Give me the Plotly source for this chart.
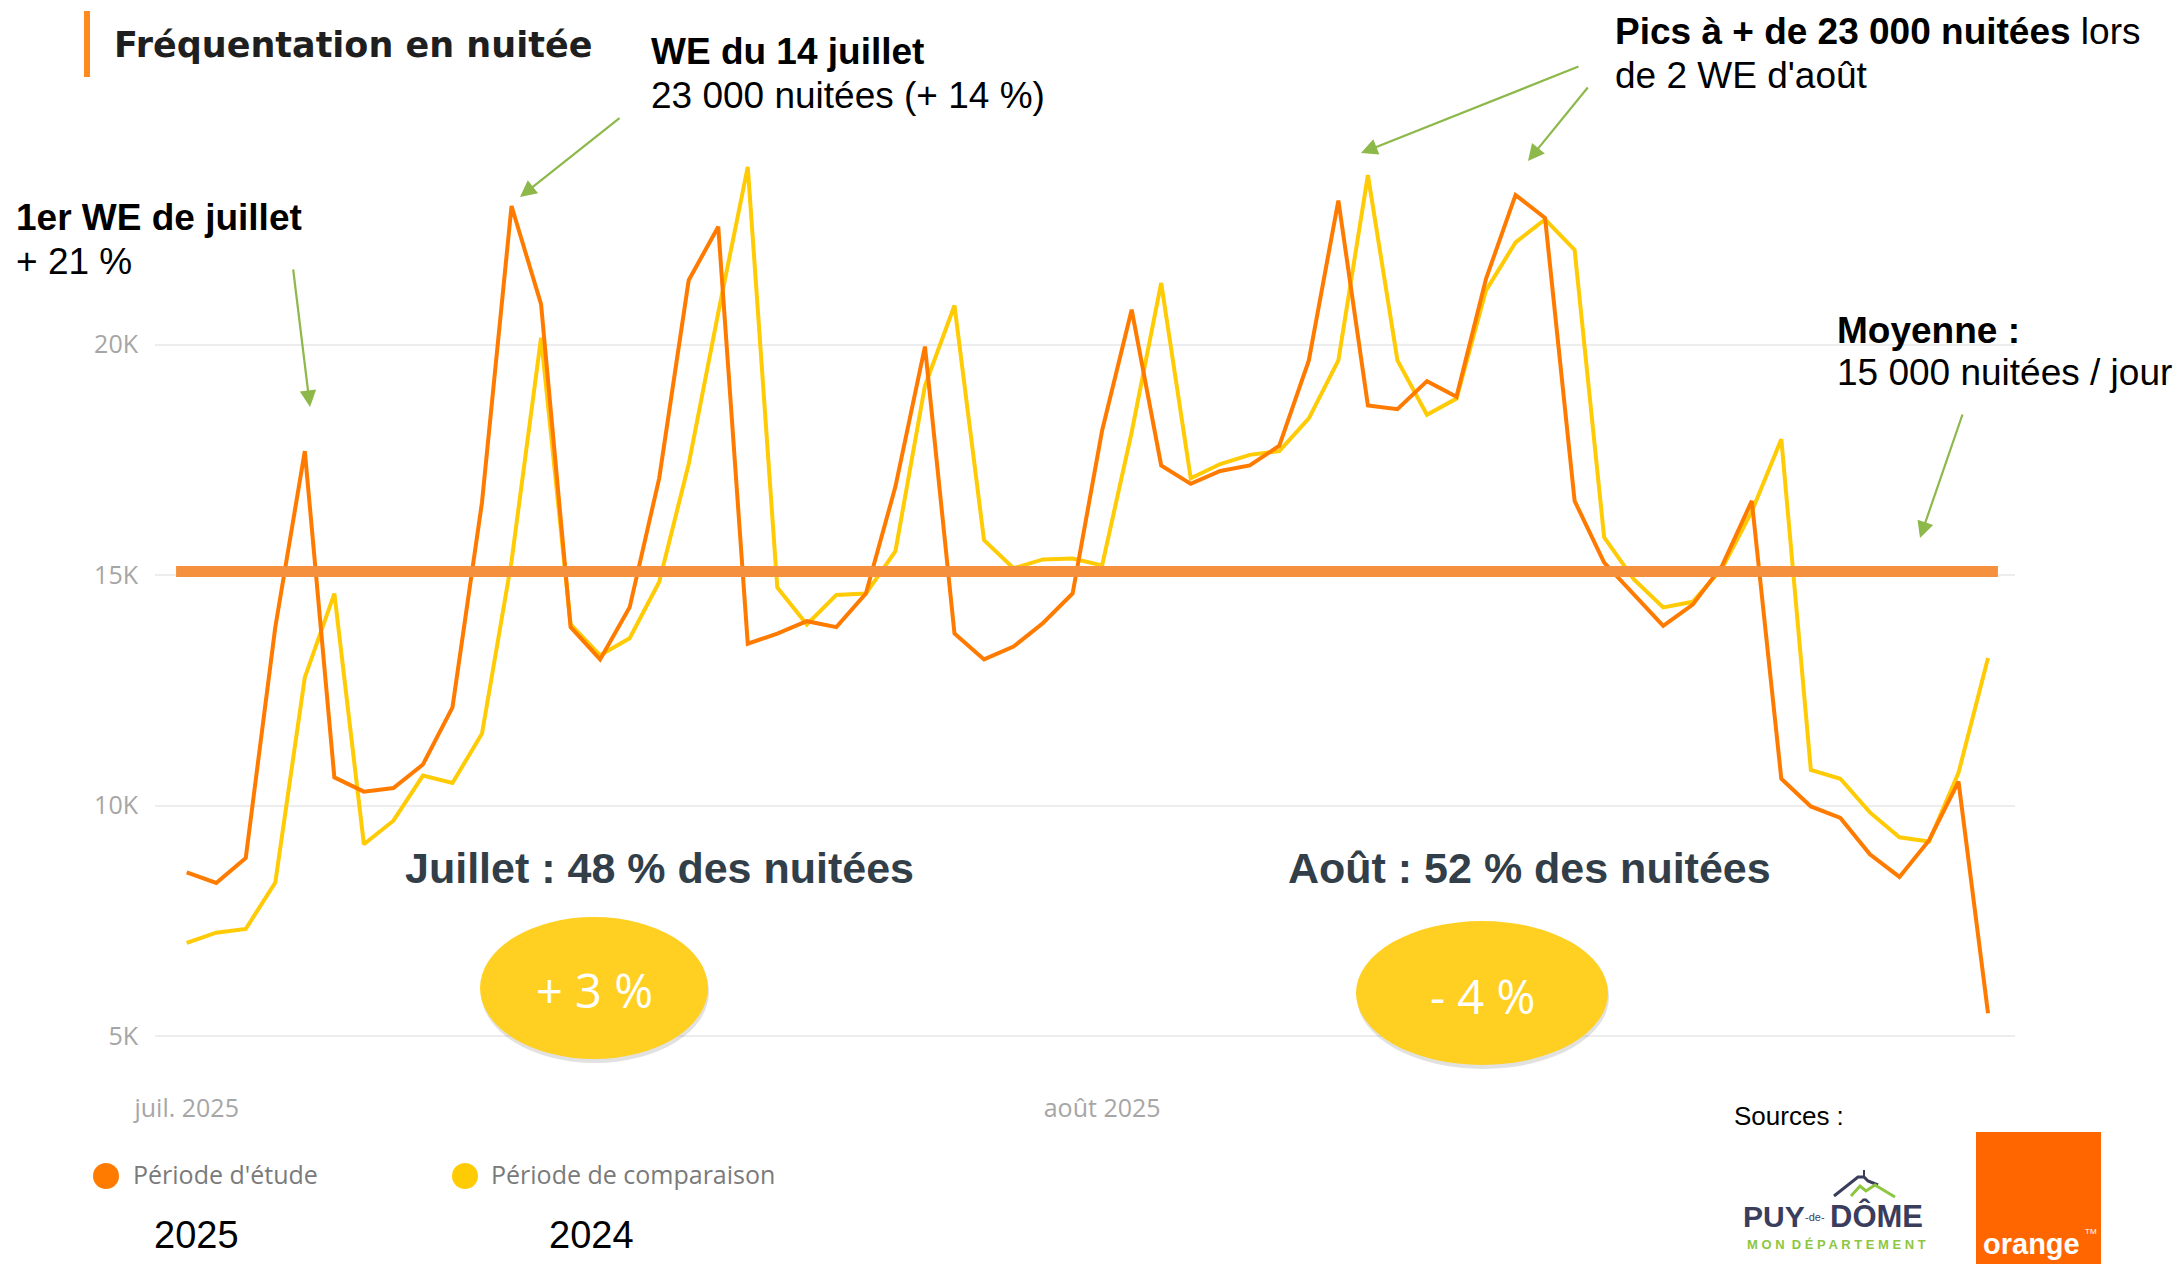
import plotly.graph_objects as go
import pandas as pd

# ---------------- data ----------------
dates = pd.date_range("2025-07-01", "2025-08-31", freq="D")
etude_2025 = [8550, 8320, 8860, 13870, 17690, 10610, 10300, 10380, 10890, 12130,
              16580, 23010, 20880, 13870, 13170, 14300, 17100, 21400, 22560, 13510,
              13730, 14000, 13870, 14600, 16920, 19960, 13730, 13170, 13450, 13960,
              14600, 18140, 20760, 17380, 16980, 17260, 17380, 17810, 19660, 23130,
              18680, 18600, 19210, 18870, 21430, 23250, 22750, 16610, 15270, 14600,
              13900, 14360, 15210, 16610, 10580, 9980, 9730, 8940, 8450, 9240,
              10520, 5490]
comparaison_2024 = [7020, 7240, 7320, 8330, 12780, 14600, 9160, 9670, 10650, 10490,
                    11560, 15300, 20150, 13930, 13260, 13630, 14850, 17410, 20690, 23860,
                    14730, 13930, 14570, 14600, 15520, 19110, 20850, 15760, 15150, 15340,
                    15360, 15210, 18100, 21340, 17100, 17410, 17610, 17690, 18400, 19660,
                    23680, 19660, 18480, 18830, 21180, 22220, 22720, 22060, 15820, 14910,
                    14300, 14420, 15150, 16380, 17950, 10770, 10580, 9850, 9310, 9220,
                    10710, 13200]
moyenne = 15080
series_names = ["Période d'étude", "Période de comparaison"]
series_years = ["2025", "2024"]
y_tickvals = [5000, 10000, 15000, 20000]
y_ticktext = ["5K", "10K", "15K", "20K"]
x_tickvals = ["2025-07-01", "2025-08-01"]
x_ticktext = ["juil. 2025", "août 2025"]
month_labels = ["Juillet : 48 % des nuitées", "Août : 52 % des nuitées"]
month_changes = ["+ 3 %", "- 4 %"]

# ---------------- geometry ----------------
FIG_W, FIG_H = 2179, 1264
L, R, T, B = 155, 164, 151, 173
PW = FIG_W - L - R
PH = FIG_H - T - B


def px(x):
    return (x - L) / PW


def py(y):
    return (FIG_H - B - y) / PH


day0 = dates[0]
step = 29.53
x_range = [day0 - pd.Timedelta(days=(186.7 - L) / step),
           day0 + pd.Timedelta(days=(FIG_W - R - 186.7) / step)]
y_range = [3804, 24204]

C_ORANGE = "#FF7B00"
C_YELLOW = "#FFCB05"
C_MEAN = "#F5913E"
C_GREEN = "#8DB84A"
C_ELL = "#FFD022"
ANN = "Liberation Sans, Arial, sans-serif"
PBI = "Open Sans, Segoe UI, sans-serif"

fig = go.Figure()
fig.add_trace(go.Scatter(x=dates, y=comparaison_2024, mode="lines", name=series_names[1],
                         line=dict(color=C_YELLOW, width=4), showlegend=False))
fig.add_trace(go.Scatter(x=dates, y=etude_2025, mode="lines", name=series_names[0],
                         line=dict(color=C_ORANGE, width=4), showlegend=False))

shapes = []
# mean line
shapes.append(dict(type="line", xref="x", yref="y",
                   x0=day0 - pd.Timedelta(days=0.36), x1=day0 + pd.Timedelta(days=61.335),
                   y0=moyenne, y1=moyenne, line=dict(color=C_MEAN, width=11), layer="above"))
# title bar
shapes.append(dict(type="line", xref="paper", yref="paper", x0=px(87), x1=px(87),
                   y0=py(11), y1=py(77), line=dict(color="#FF8A1F", width=6)))


def ellipse(cx, cy, w, h):
    shapes.append(dict(type="circle", xref="paper", yref="paper",
                       x0=px(cx - w / 2 + 1), x1=px(cx + w / 2 + 1),
                       y0=py(cy - h / 2 + 4), y1=py(cy + h / 2 + 4),
                       fillcolor="rgba(120,120,120,0.22)", line=dict(width=0), layer="above"))
    shapes.append(dict(type="circle", xref="paper", yref="paper",
                       x0=px(cx - w / 2), x1=px(cx + w / 2),
                       y0=py(cy - h / 2), y1=py(cy + h / 2),
                       fillcolor=C_ELL, line=dict(width=0), layer="above"))


ellipse(594, 988, 228, 142)
ellipse(1482, 993, 252, 144)

# legend dots
for cx, col in [(106, C_ORANGE), (465, C_YELLOW)]:
    shapes.append(dict(type="circle", xref="paper", yref="paper",
                       x0=px(cx - 13), x1=px(cx + 13), y0=py(1176 - 13), y1=py(1176 + 13),
                       fillcolor=col, line=dict(width=0)))

# orange logo
shapes.append(dict(type="rect", xref="paper", yref="paper", x0=px(1976), x1=px(2101),
                   y0=py(1132), y1=py(1264), fillcolor="#FF6600", line=dict(width=0)))


# Puy-de-Dome mountain
def path(points):
    return "M " + " L ".join(f"{px(a):.5f},{py(b):.5f}" for a, b in points)


shapes.append(dict(type="path", xref="paper", yref="paper",
                   path=path([(1834, 1196), (1858, 1177), (1864, 1177), (1868, 1181), (1878, 1185)]),
                   line=dict(color="#3A3D5C", width=3)))
shapes.append(dict(type="line", xref="paper", yref="paper", x0=px(1864), x1=px(1864),
                   y0=py(1170), y1=py(1178), line=dict(color="#3A3D5C", width=2)))
shapes.append(dict(type="path", xref="paper", yref="paper",
                   path=path([(1851, 1196), (1860, 1186), (1866, 1191), (1875, 1185), (1895, 1197)]),
                   line=dict(color="#8DC63F", width=3)))

annotations = []


def text(x, y, s, size, color="#000000", family=ANN, xanchor="left", yanchor="middle"):
    annotations.append(dict(x=px(x), y=py(y), xref="paper", yref="paper", text=s,
                            showarrow=False, xanchor=xanchor, yanchor=yanchor,
                            font=dict(size=size, color=color, family=family)))


def arrow(tx, ty, hx, hy):
    annotations.append(dict(x=px(hx), y=py(hy), xref="paper", yref="paper", text="",
                            showarrow=True, ax=tx - hx, ay=ty - hy, arrowhead=2,
                            arrowsize=1.5, arrowwidth=2.2, arrowcolor=C_GREEN, standoff=0))


# title
text(112, 45, "<b>Fréquentation en nuitée</b>", 35, "#1F1F1F", "DejaVu Sans")
# callouts
text(649, 52, "<b>WE du 14 juillet</b>", 37)
text(649, 96, "23 000 nuitées (+ 14 %)", 37)
text(14, 218, "<b>1er WE de juillet</b>", 37)
text(14, 261, "+ 21 %", 37)
text(1613, 31, "<b>Pics à + de 23 000 nuitées</b> lors", 37)
text(1613, 75, "de 2 WE d'août", 37)
text(1835, 330, "<b>Moyenne :</b>", 37)
text(1835, 373, "15 000 nuitées / jour", 37)

arrow(293, 268, 310, 407)
arrow(621, 117, 520, 197)
arrow(1580, 66, 1361, 153)
arrow(1589, 86, 1528, 161)
arrow(1963, 413, 1920, 538)

# month labels
text(659, 868, "<b>" + month_labels[0] + "</b>", 43, "#323E48", xanchor="center")
text(1529, 868, "<b>" + month_labels[1] + "</b>", 43, "#323E48", xanchor="center")
text(594, 990, month_changes[0], 47, "#FFFFFF", PBI, xanchor="center")
text(1482, 996, month_changes[1], 47, "#FFFFFF", PBI, xanchor="center")

# legend
text(131, 1174, series_names[0], 25, "#7A7A7A", PBI)
text(489, 1174, series_names[1], 25, "#7A7A7A", PBI)
text(196, 1235, series_years[0], 38, "#000000", xanchor="center")
text(591, 1235, series_years[1], 38, "#000000", xanchor="center")

# sources
text(1732, 1116, "Sources :", 26)
text(1741, 1216, "<b>PUY</b>", 30, "#3A3D5C", ANN)
text(1815, 1217, "-de-", 11, "#3A3D5C", ANN, xanchor="center")
text(1828, 1216, "<b>DÔME</b>", 31, "#3A3D5C", ANN)
text(1836, 1244, "<b>M O N  D É P A R T E M E N T</b>", 13, "#8DC63F", ANN, xanchor="center")
text(2031, 1244, "<b>orange</b>", 29, "#FFFFFF", ANN, xanchor="center")
text(2091, 1231, "TM", 8, "#FFFFFF", ANN, xanchor="center")

fig.update_layout(
    width=FIG_W, height=FIG_H,
    margin=dict(l=L, r=R, t=T, b=B),
    paper_bgcolor="white", plot_bgcolor="white",
    shapes=shapes, annotations=annotations,
    showlegend=False,
    xaxis=dict(range=x_range, tickvals=x_tickvals, ticktext=x_ticktext, showgrid=False,
               zeroline=False, showline=False, ticks="",
               tickfont=dict(size=25, color="#A6A6A6", family=PBI)),
    yaxis=dict(range=y_range, tickvals=y_tickvals, ticktext=y_ticktext, showgrid=True,
               gridcolor="#EDEDED", gridwidth=2, zeroline=False, showline=False, ticks="",
               ticklabelstandoff=16,
               tickfont=dict(size=25, color="#A6A6A6", family=PBI)),
)

fig.write_html("out.html", config={"displayModeBar": False},
               post_script="document.body.style.margin='0';document.body.style.overflow='hidden';")
